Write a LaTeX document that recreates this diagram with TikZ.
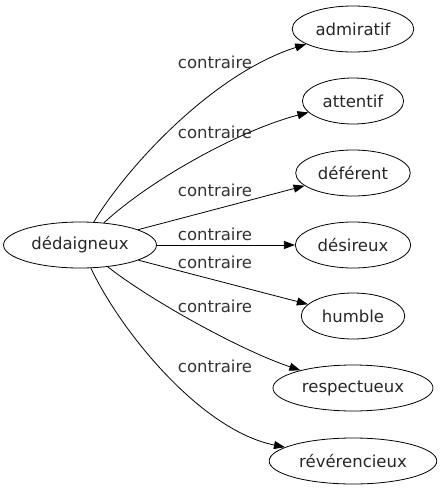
\documentclass[tikz,border=0pt]{standalone}
\usepackage{fontspec}
\setmainfont{DejaVu Sans}
\usetikzlibrary{shapes.geometric,arrows.meta}

\begin{document}
\begin{tikzpicture}[x=1pt, y=-1pt,
    word/.style={ellipse, draw, line width=0.8pt, inner xsep=5.5pt,
      minimum height=46pt, text=black!85, font=\fontsize{16.5}{20}\selectfont},
    lab/.style={font=\fontsize{16.5}{20}\selectfont, text=black!80},
    >={Triangle[length=11pt,width=8pt]}, line width=0.8pt]
  \useasboundingbox (0,0) rectangle (441,491);
  \node[word] (D) at (80,245) {dédaigneux};
  \node[word] (A) at (353,29) {admiratif};
  \node[word] (B) at (353,101) {attentif};
  \node[word] (C) at (353,173) {déférent};
  \node[word] (E) at (353,245) {désireux};
  \node[word] (F) at (353,316) {humble};
  \node[word] (G) at (353,388) {respectueux};
  \node[word] (H) at (353,461) {révérencieux};
  % the relations
  \draw[->] (D) .. controls (125,170) and (210,75) .. (A);
  \draw[->] (D) .. controls (150,180) and (240,130) .. (B);
  \draw[->] (D) -- (C);
  \draw[->] (D) -- (E);
  \draw[->] (D) -- (F);
  \draw[->] (D) .. controls (150,300) and (240,350) .. (G);
  \draw[->] (D) .. controls (120,330) and (200,430) .. (H);
  \node[lab] (la) at (215,62) {contraire};
  \node[lab] (lb) at (215,132) {contraire};
  \node[lab] (lc) at (215,190) {contraire};
  \node[lab] (le) at (215,234) {contraire};
  \node[lab] (lf) at (215,262) {contraire};
  \node[lab] (lg) at (215,306) {contraire};
  \node[lab] (lh) at (215,366) {contraire};
\end{tikzpicture}
\end{document}
